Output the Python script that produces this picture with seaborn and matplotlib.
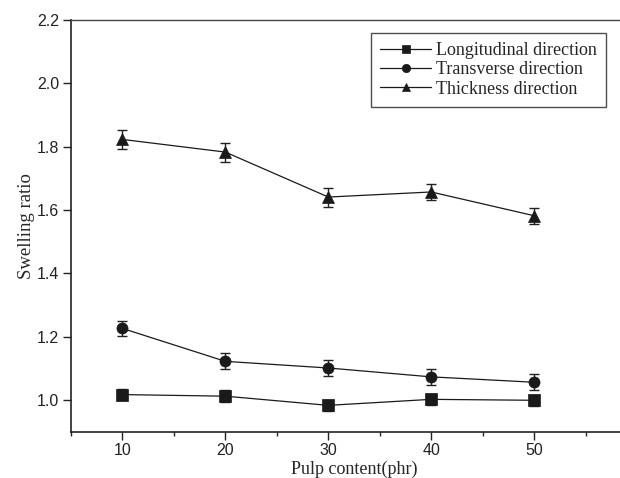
import pandas as pd
import matplotlib
matplotlib.use("Agg")
import matplotlib.pyplot as plt
import seaborn as sns
from matplotlib.ticker import MultipleLocator, FormatStrFormatter

# データ
pulp = [10, 20, 30, 40, 50]
longitudinal = [1.017, 1.012, 0.983, 1.002, 0.999]
longitudinal_err = [0.018, 0.018, 0.018, 0.018, 0.018]
transverse = [1.226, 1.122, 1.101, 1.073, 1.056]
transverse_err = [0.025, 0.025, 0.024, 0.025, 0.025]
thickness = [1.823, 1.783, 1.641, 1.657, 1.582]
thickness_err = [0.03, 0.03, 0.03, 0.025, 0.025]

labels = ["Longitudinal direction", "Transverse direction", "Thickness direction"]
markers = {"Longitudinal direction": "s",
           "Transverse direction": "o",
           "Thickness direction": "^"}

df = pd.concat([
    pd.DataFrame({"pulp": pulp, "ratio": longitudinal, "err": longitudinal_err, "dir": labels[0]}),
    pd.DataFrame({"pulp": pulp, "ratio": transverse, "err": transverse_err, "dir": labels[1]}),
    pd.DataFrame({"pulp": pulp, "ratio": thickness, "err": thickness_err, "dir": labels[2]}),
])

sns.set_style("ticks")
plt.rcParams["font.family"] = ["Liberation Sans", "DejaVu Sans"]

fig = plt.figure(figsize=(6.2, 4.78), dpi=100)
ax = fig.add_axes([0.1145, 0.097, 0.913, 0.861])

# エラーバー
for name in labels:
    sub = df[df["dir"] == name]
    ax.errorbar(sub["pulp"], sub["ratio"], yerr=sub["err"], fmt="none",
                ecolor="#222222", elinewidth=1.0, capsize=3.5, capthick=1.0, zorder=2)

sns.lineplot(data=df, x="pulp", y="ratio", hue="dir", style="dir",
             markers=markers, dashes=False, palette=["#1a1a1a"] * 3,
             linewidth=0.9, markersize=8, markeredgewidth=0.5,
             markeredgecolor="#1a1a1a", ax=ax, zorder=3)

ax.set_xlim(5, 60)
ax.set_ylim(0.9, 2.2)
ax.set_xticks([10, 20, 30, 40, 50])
ax.xaxis.set_minor_locator(MultipleLocator(5))
ax.yaxis.set_major_locator(MultipleLocator(0.2))
ax.yaxis.set_major_formatter(FormatStrFormatter("%.1f"))

ax.tick_params(axis="both", which="major", direction="out", length=5.5, width=1.0,
               labelsize=11.5, colors="#222222", pad=3)
ax.tick_params(axis="x", which="minor", direction="out", length=3, width=1.0)
ax.tick_params(top=False, right=False, which="both")

for s in ["left", "bottom"]:
    ax.spines[s].set_linewidth(1.2)
    ax.spines[s].set_color("#222222")
ax.spines["top"].set_linewidth(1.0)
ax.spines["top"].set_color("#444444")
ax.spines["right"].set_visible(False)

serif = ["Liberation Serif", "DejaVu Serif"]
ax.set_xlabel("Pulp content(phr)", family=serif, fontsize=13, labelpad=1.5)
ax.set_ylabel("Swelling ratio", family=serif, fontsize=13.5, labelpad=1)

leg = ax.legend(loc="upper right", bbox_to_anchor=(0.9456, 0.968), frameon=True,
                fancybox=False, handlelength=2.8, handletextpad=0.3,
                borderpad=0.5, labelspacing=0.12, borderaxespad=0,
                markerscale=0.75, prop={"family": serif, "size": 13})
leg.get_frame().set_edgecolor("#222222")
leg.get_frame().set_linewidth(1.0)

fig.savefig("out.png", dpi=100)
